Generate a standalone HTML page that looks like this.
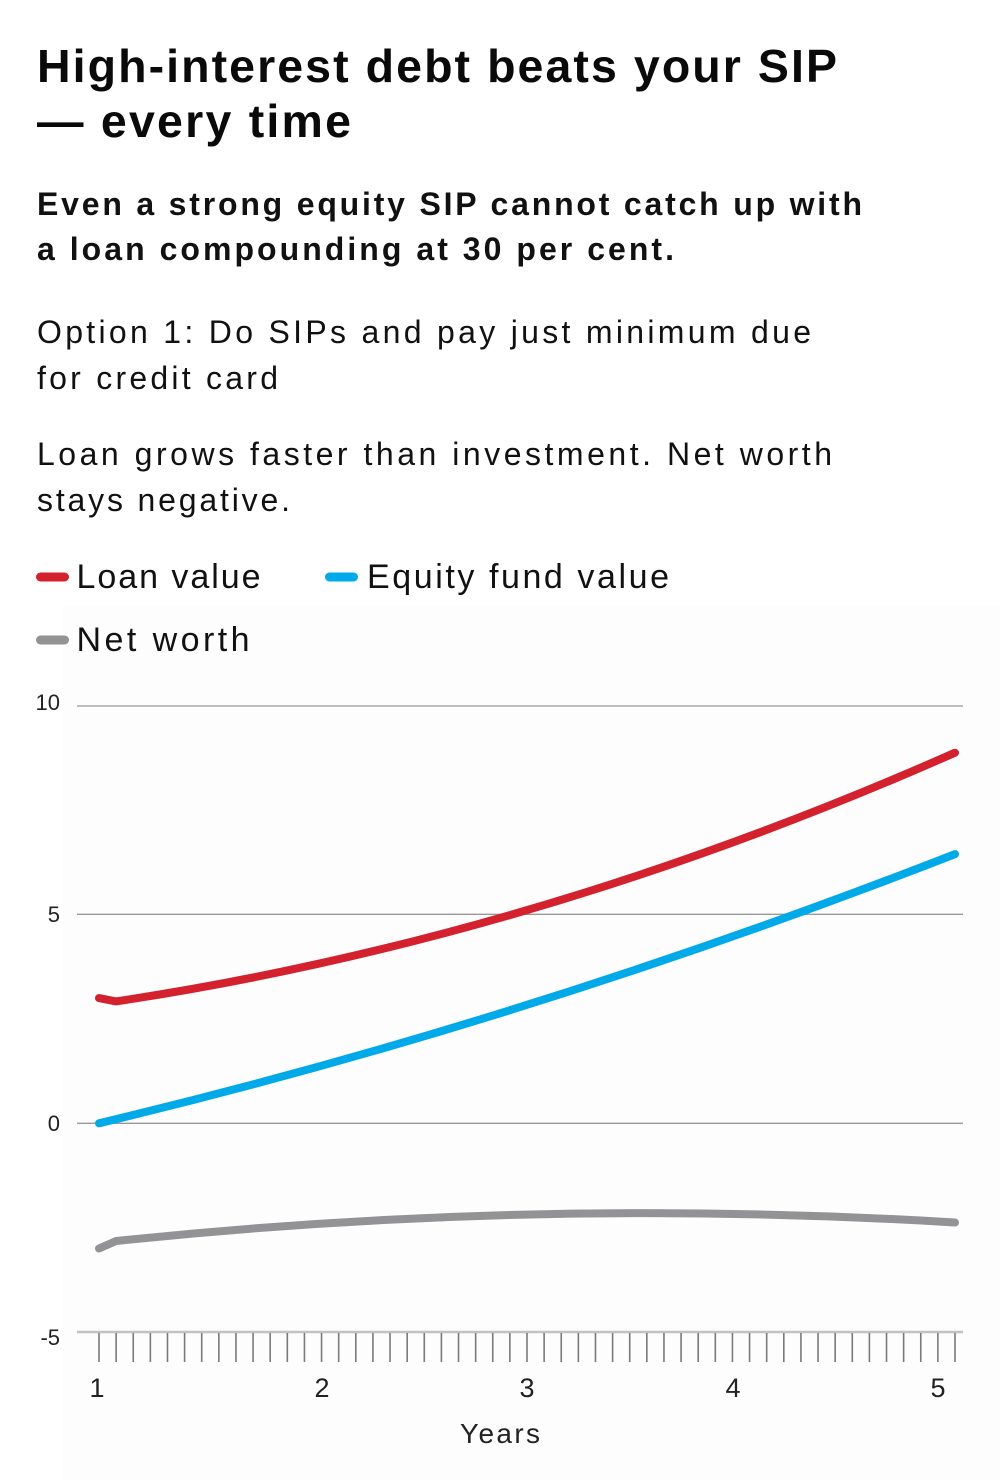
<!DOCTYPE html>
<html>
<head>
<meta charset="utf-8">
<style>
  html, body { margin: 0; padding: 0; background: #ffffff; }
  svg { display: block; }
  text { font-family: "Liberation Sans", "DejaVu Sans", sans-serif; fill: #111; }
</style>
</head>
<body>
<svg width="1000" height="1480" viewBox="0 0 1000 1480" xmlns="http://www.w3.org/2000/svg">
  <rect x="0" y="0" width="1000" height="1480" fill="#ffffff"/>
  <rect x="63" y="605" width="937" height="875" fill="#fdfdfe"/>

  <!-- Title -->
  <text x="37" y="82" font-size="46.5" font-weight="bold" textLength="800" lengthAdjust="spacing" style="fill:#0a0a0a">High-interest debt beats your SIP</text>
  <text x="37" y="137" font-size="46.5" font-weight="bold" textLength="314" lengthAdjust="spacing" style="fill:#0a0a0a">— every time</text>

  <!-- Subtitle -->
  <text x="37" y="215" font-size="32" font-weight="bold" textLength="825" lengthAdjust="spacing">Even a strong equity SIP cannot catch up with</text>
  <text x="37" y="260" font-size="32" font-weight="bold" textLength="637" lengthAdjust="spacing">a loan compounding at 30 per cent.</text>

  <!-- Body -->
  <text x="37" y="343" font-size="32" textLength="774" lengthAdjust="spacing">Option 1: Do SIPs and pay just minimum due</text>
  <text x="37" y="389" font-size="32" textLength="241" lengthAdjust="spacing">for credit card</text>
  <text x="37" y="465" font-size="32" textLength="795" lengthAdjust="spacing">Loan grows faster than investment. Net worth</text>
  <text x="37" y="511" font-size="32" textLength="253" lengthAdjust="spacing">stays negative.</text>

  <!-- Legend -->
  <line x1="40.5" y1="577" x2="64.5" y2="577" stroke="#d3222e" stroke-width="9" stroke-linecap="round"/>
  <text x="76.5" y="588" font-size="34" textLength="184" lengthAdjust="spacing">Loan value</text>
  <line x1="329.5" y1="577" x2="353.5" y2="577" stroke="#00a9e8" stroke-width="9" stroke-linecap="round"/>
  <text x="367" y="588" font-size="34" textLength="302" lengthAdjust="spacing">Equity fund value</text>
  <line x1="40.5" y1="640" x2="64.5" y2="640" stroke="#939395" stroke-width="9" stroke-linecap="round"/>
  <text x="76.5" y="651" font-size="34" textLength="173" lengthAdjust="spacing">Net worth</text>

  <!-- Gridlines -->
  <line x1="77" y1="706" x2="963" y2="706" stroke="#999" stroke-width="1.3"/>
  <line x1="77" y1="914.3" x2="963" y2="914.3" stroke="#999" stroke-width="1.3"/>
  <line x1="77" y1="1123.3" x2="963" y2="1123.3" stroke="#999" stroke-width="1.3"/>

  <!-- Y labels -->
  <text x="60" y="710" font-size="22" text-anchor="end" style="fill:#222">10</text>
  <text x="60" y="922" font-size="22" text-anchor="end" style="fill:#222">5</text>
  <text x="60" y="1131" font-size="22" text-anchor="end" style="fill:#222">0</text>
  <text x="60" y="1345" font-size="22" text-anchor="end" style="fill:#222">-5</text>

  <!-- X axis -->
  <line x1="77" y1="1332" x2="963" y2="1332" stroke="#c2c2c2" stroke-width="2.5"/>
  <path stroke="#7a7a7a" stroke-width="1.6" fill="none" d="
    M99,1333V1362 M116.12,1333V1362 M133.24,1333V1362 M150.36,1333V1362 M167.48,1333V1362
    M184.6,1333V1362 M201.72,1333V1362 M218.84,1333V1362 M235.96,1333V1362 M253.08,1333V1362
    M270.2,1333V1362 M287.32,1333V1362 M304.44,1333V1362 M321.56,1333V1362 M338.68,1333V1362
    M355.8,1333V1362 M372.92,1333V1362 M390.04,1333V1362 M407.16,1333V1362 M424.28,1333V1362
    M441.4,1333V1362 M458.52,1333V1362 M475.64,1333V1362 M492.76,1333V1362 M509.88,1333V1362
    M527,1333V1362 M544.12,1333V1362 M561.24,1333V1362 M578.36,1333V1362 M595.48,1333V1362
    M612.6,1333V1362 M629.72,1333V1362 M646.84,1333V1362 M663.96,1333V1362 M681.08,1333V1362
    M698.2,1333V1362 M715.32,1333V1362 M732.44,1333V1362 M749.56,1333V1362 M766.68,1333V1362
    M783.8,1333V1362 M800.92,1333V1362 M818.04,1333V1362 M835.16,1333V1362 M852.28,1333V1362
    M869.4,1333V1362 M886.52,1333V1362 M903.64,1333V1362 M920.76,1333V1362 M937.88,1333V1362
    M955,1333V1362"/>

  <!-- X labels -->
  <text x="97" y="1397" font-size="27" text-anchor="middle" style="fill:#222">1</text>
  <text x="322" y="1397" font-size="27" text-anchor="middle" style="fill:#222">2</text>
  <text x="527" y="1397" font-size="27" text-anchor="middle" style="fill:#222">3</text>
  <text x="733" y="1397" font-size="27" text-anchor="middle" style="fill:#222">4</text>
  <text x="938" y="1397" font-size="27" text-anchor="middle" style="fill:#222">5</text>
  <text x="500" y="1443" font-size="28" text-anchor="middle" textLength="80" lengthAdjust="spacing" style="fill:#222">Years</text>

  <!-- Series -->
  <path d="M99,1248.5 L116.12,1241 Q535.56,1197 955,1222.5" fill="none" stroke="#939395" stroke-width="8" stroke-linecap="round" stroke-linejoin="round"/>
  <path d="M99,1123.3 Q527,1021.1 955,854.1" fill="none" stroke="#00a9e8" stroke-width="8" stroke-linecap="round" stroke-linejoin="round"/>
  <path d="M99,998.1 L116.12,1001.4 Q535.56,938.2 955,752.7" fill="none" stroke="#d3222e" stroke-width="8" stroke-linecap="round" stroke-linejoin="round"/>
</svg>
</body>
</html>
